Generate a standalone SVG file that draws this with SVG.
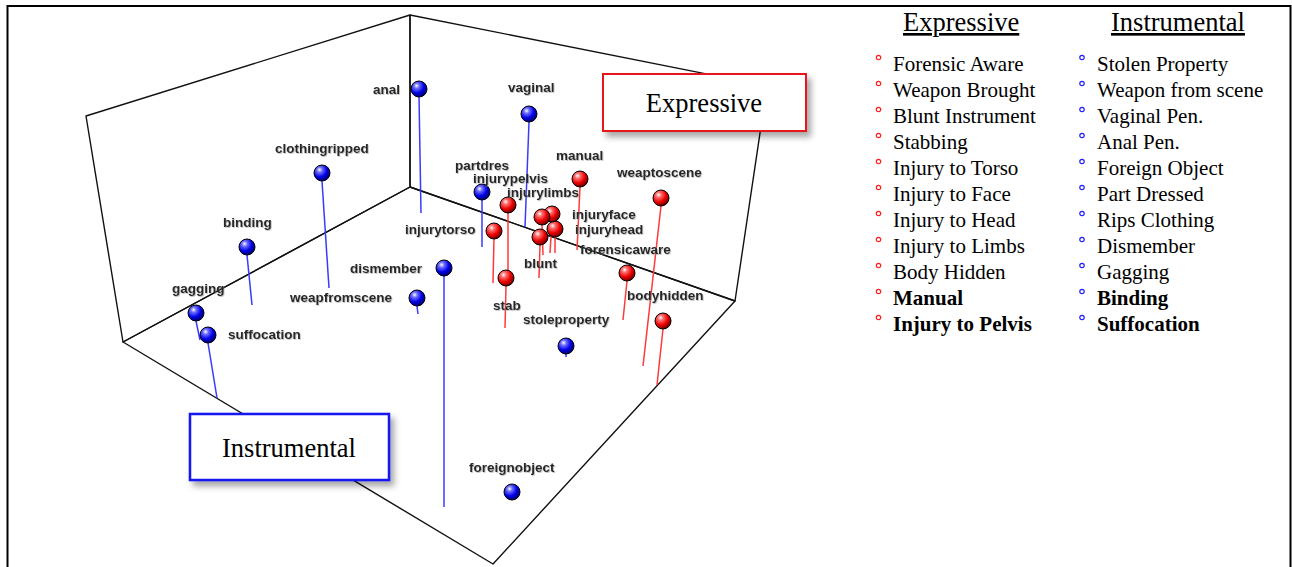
<svg xmlns="http://www.w3.org/2000/svg" width="1292" height="567" viewBox="0 0 1292 567">
<defs>
<radialGradient id="gb" cx="0.35" cy="0.3" r="0.75">
<stop offset="0" stop-color="#ffffff"/><stop offset="0.22" stop-color="#7070ff"/><stop offset="0.6" stop-color="#0000e8"/><stop offset="1" stop-color="#000060"/>
</radialGradient>
<radialGradient id="gr" cx="0.35" cy="0.3" r="0.75">
<stop offset="0" stop-color="#ffffff"/><stop offset="0.22" stop-color="#ff7070"/><stop offset="0.6" stop-color="#ee0000"/><stop offset="1" stop-color="#600000"/>
</radialGradient>
<filter id="sh" x="-10%" y="-10%" width="130%" height="140%">
<feDropShadow dx="4" dy="5" stdDeviation="3" flood-color="#000" flood-opacity="0.35"/>
</filter>
<filter id="ts" x="-5%" y="-20%" width="115%" height="150%">
<feDropShadow dx="0.8" dy="0.8" stdDeviation="0.5" flood-color="#888" flood-opacity="0.6"/>
</filter>
</defs>
<style>
.ax{fill:none;stroke:#111;stroke-width:1.4;stroke-linejoin:round}
.sb{stroke:#3a3aff;stroke-width:1.5}
.sr{stroke:#ff3a3a;stroke-width:1.5}
.b{fill:url(#gb);stroke:#000;stroke-width:1}
.r{fill:url(#gr);stroke:#000;stroke-width:1}
.lb{font-family:"Liberation Sans",Arial,sans-serif;font-size:13.5px;font-weight:bold;fill:#262626;filter:url(#ts)}
.tm{font-family:"Liberation Serif","Times New Roman",serif;fill:#000}
.hd{font-size:26.5px;text-decoration:underline}
.it{font-size:21px}
.bd{font-weight:bold}
.bR{fill:none;stroke:#ff2020;stroke-width:1.2}
.bB{fill:none;stroke:#2020ff;stroke-width:1.2}
</style>
<rect x="7.5" y="6" width="1283" height="575" fill="#fff" stroke="#000" stroke-width="2"/>
<g id="axes">
<polygon class="ax" points="86,116 410,15 410,187 123,342"/>
<polygon class="ax" points="410,15 767,86 735,301 410,187"/>
<polygon class="ax" points="410,187 735,301 493,564 123,342"/>
</g>
<g id="connectors">
<line class="sb" x1="419" y1="96" x2="421" y2="213"/>
<line class="sb" x1="322" y1="181" x2="329" y2="288"/>
<line class="sb" x1="247" y1="255" x2="252" y2="305"/>
<line class="sb" x1="196" y1="321" x2="200" y2="340"/>
<line class="sb" x1="208" y1="343" x2="217" y2="398"/>
<line class="sb" x1="417" y1="306" x2="418" y2="314"/>
<line class="sb" x1="444" y1="276" x2="444" y2="507"/>
<line class="sb" x1="529" y1="122" x2="525" y2="227"/>
<line class="sb" x1="482" y1="200" x2="482" y2="247"/>
<line class="sb" x1="566" y1="354" x2="566" y2="357"/>
<line class="sr" x1="508" y1="213" x2="508" y2="273"/>
<line class="sr" x1="494" y1="238" x2="493" y2="283"/>
<line class="sr" x1="542" y1="225" x2="543" y2="255"/>
<line class="sr" x1="552" y1="222" x2="550" y2="253"/>
<line class="sr" x1="555" y1="237" x2="555" y2="253"/>
<line class="sr" x1="540" y1="245" x2="539" y2="278"/>
<line class="sr" x1="580" y1="187" x2="577" y2="250"/>
<line class="sr" x1="661" y1="206" x2="643" y2="366"/>
<line class="sr" x1="627" y1="281" x2="623" y2="320"/>
<line class="sr" x1="663" y1="329" x2="657" y2="385"/>
<line class="sr" x1="506" y1="286" x2="505" y2="328"/>
</g>
<g id="n-anal"><circle class="b" cx="419" cy="89" r="8"/><text class="lb" x="373" y="94">anal</text></g>
<g id="n-clothingripped"><circle class="b" cx="322" cy="173" r="8"/><text class="lb" x="275" y="153">clothingripped</text></g>
<g id="n-binding"><circle class="b" cx="247" cy="247" r="8"/><text class="lb" x="223" y="227">binding</text></g>
<g id="n-gagging"><circle class="b" cx="196" cy="313" r="8"/><text class="lb" x="172" y="293">gagging</text></g>
<g id="n-suffocation"><circle class="b" cx="208" cy="335" r="8"/><text class="lb" x="228" y="339">suffocation</text></g>
<g id="n-weapfromscene"><circle class="b" cx="417" cy="298" r="8"/><text class="lb" x="290" y="302">weapfromscene</text></g>
<g id="n-dismember"><circle class="b" cx="444" cy="268" r="8"/><text class="lb" x="350" y="273">dismember</text></g>
<g id="n-vaginal"><circle class="b" cx="529" cy="114" r="8"/><text class="lb" x="508" y="92">vaginal</text></g>
<g id="n-partdres"><circle class="b" cx="482" cy="192" r="8"/><text class="lb" x="455" y="170">partdres</text></g>
<g id="n-injurytorso"><circle class="r" cx="494" cy="231" r="8"/><text class="lb" x="405" y="234">injurytorso</text></g>
<g id="n-injurypelvis"><circle class="r" cx="508" cy="205" r="8"/><text class="lb" x="473" y="183">injurypelvis</text></g>
<g id="n-blunt"><circle class="r" cx="540" cy="237" r="8"/><text class="lb" x="524" y="268">blunt</text></g>
<g id="n-injuryhead"><circle class="r" cx="555" cy="229" r="8"/><text class="lb" x="575" y="234">injuryhead</text></g>
<g id="n-injuryface"><circle class="r" cx="552" cy="214" r="8"/><text class="lb" x="572" y="219">injuryface</text></g>
<g id="n-injurylimbs"><circle class="r" cx="542" cy="217" r="8"/><text class="lb" x="507" y="197">injurylimbs</text></g>
<g id="n-manual"><circle class="r" cx="580" cy="179" r="8"/><text class="lb" x="556" y="160">manual</text></g>
<g id="n-weaptoscene"><circle class="r" cx="661" cy="198" r="8"/><text class="lb" x="617" y="177">weaptoscene</text></g>
<g id="n-forensicaware"><circle class="r" cx="627" cy="273" r="8"/><text class="lb" x="580" y="254">forensicaware</text></g>
<g id="n-bodyhidden"><circle class="r" cx="663" cy="321" r="8"/><text class="lb" x="627" y="300">bodyhidden</text></g>
<g id="n-stab"><circle class="r" cx="506" cy="278" r="8"/><text class="lb" x="493" y="310">stab</text></g>
<g id="n-stoleproperty"><circle class="b" cx="566" cy="346" r="8"/><text class="lb" x="523" y="324">stoleproperty</text></g>
<g id="n-foreignobject"><circle class="b" cx="512" cy="492" r="8"/><text class="lb" x="469" y="472">foreignobject</text></g>
<g id="box-expressive">
<rect x="603" y="74" width="203" height="57" fill="#fff" stroke="#e8141e" stroke-width="2" filter="url(#sh)"/>
<text class="tm" x="704" y="112" font-size="26.5" text-anchor="middle">Expressive</text>
</g>
<g id="box-instrumental">
<rect x="190" y="414" width="199" height="66" fill="#fff" stroke="#1414f0" stroke-width="2.5" filter="url(#sh)"/>
<text class="tm" x="289" y="457" font-size="26.5" text-anchor="middle">Instrumental</text>
</g>
<g id="legend-expressive">
<text class="tm hd" x="903" y="31">Expressive</text>
<g class="bR">
<circle cx="878.5" cy="57.5" r="2.2"/><circle cx="878.5" cy="83.5" r="2.2"/><circle cx="878.5" cy="109.5" r="2.2"/><circle cx="878.5" cy="135.5" r="2.2"/><circle cx="878.5" cy="161.5" r="2.2"/><circle cx="878.5" cy="187.5" r="2.2"/><circle cx="878.5" cy="213.5" r="2.2"/><circle cx="878.5" cy="239.5" r="2.2"/><circle cx="878.5" cy="265.5" r="2.2"/><circle cx="878.5" cy="291.5" r="2.2"/><circle cx="878.5" cy="317.5" r="2.2"/>
</g>
<text class="tm it" x="893" y="70.5">Forensic Aware</text>
<text class="tm it" x="893" y="96.5">Weapon Brought</text>
<text class="tm it" x="893" y="122.5">Blunt Instrument</text>
<text class="tm it" x="893" y="148.5">Stabbing</text>
<text class="tm it" x="893" y="174.5">Injury to Torso</text>
<text class="tm it" x="893" y="200.5">Injury to Face</text>
<text class="tm it" x="893" y="226.5">Injury to Head</text>
<text class="tm it" x="893" y="252.5">Injury to Limbs</text>
<text class="tm it" x="893" y="278.5">Body Hidden</text>
<text class="tm it bd" x="893" y="304.5">Manual</text>
<text class="tm it bd" x="893" y="330.5">Injury to Pelvis</text>
</g>
<g id="legend-instrumental">
<text class="tm hd" x="1111" y="31">Instrumental</text>
<g class="bB">
<circle cx="1082" cy="57.5" r="2.2"/><circle cx="1082" cy="83.5" r="2.2"/><circle cx="1082" cy="109.5" r="2.2"/><circle cx="1082" cy="135.5" r="2.2"/><circle cx="1082" cy="161.5" r="2.2"/><circle cx="1082" cy="187.5" r="2.2"/><circle cx="1082" cy="213.5" r="2.2"/><circle cx="1082" cy="239.5" r="2.2"/><circle cx="1082" cy="265.5" r="2.2"/><circle cx="1082" cy="291.5" r="2.2"/><circle cx="1082" cy="317.5" r="2.2"/>
</g>
<text class="tm it" x="1097" y="70.5">Stolen Property</text>
<text class="tm it" x="1097" y="96.5">Weapon from scene</text>
<text class="tm it" x="1097" y="122.5">Vaginal Pen.</text>
<text class="tm it" x="1097" y="148.5">Anal Pen.</text>
<text class="tm it" x="1097" y="174.5">Foreign Object</text>
<text class="tm it" x="1097" y="200.5">Part Dressed</text>
<text class="tm it" x="1097" y="226.5">Rips Clothing</text>
<text class="tm it" x="1097" y="252.5">Dismember</text>
<text class="tm it" x="1097" y="278.5">Gagging</text>
<text class="tm it bd" x="1097" y="304.5">Binding</text>
<text class="tm it bd" x="1097" y="330.5">Suffocation</text>
</g>
</svg>
